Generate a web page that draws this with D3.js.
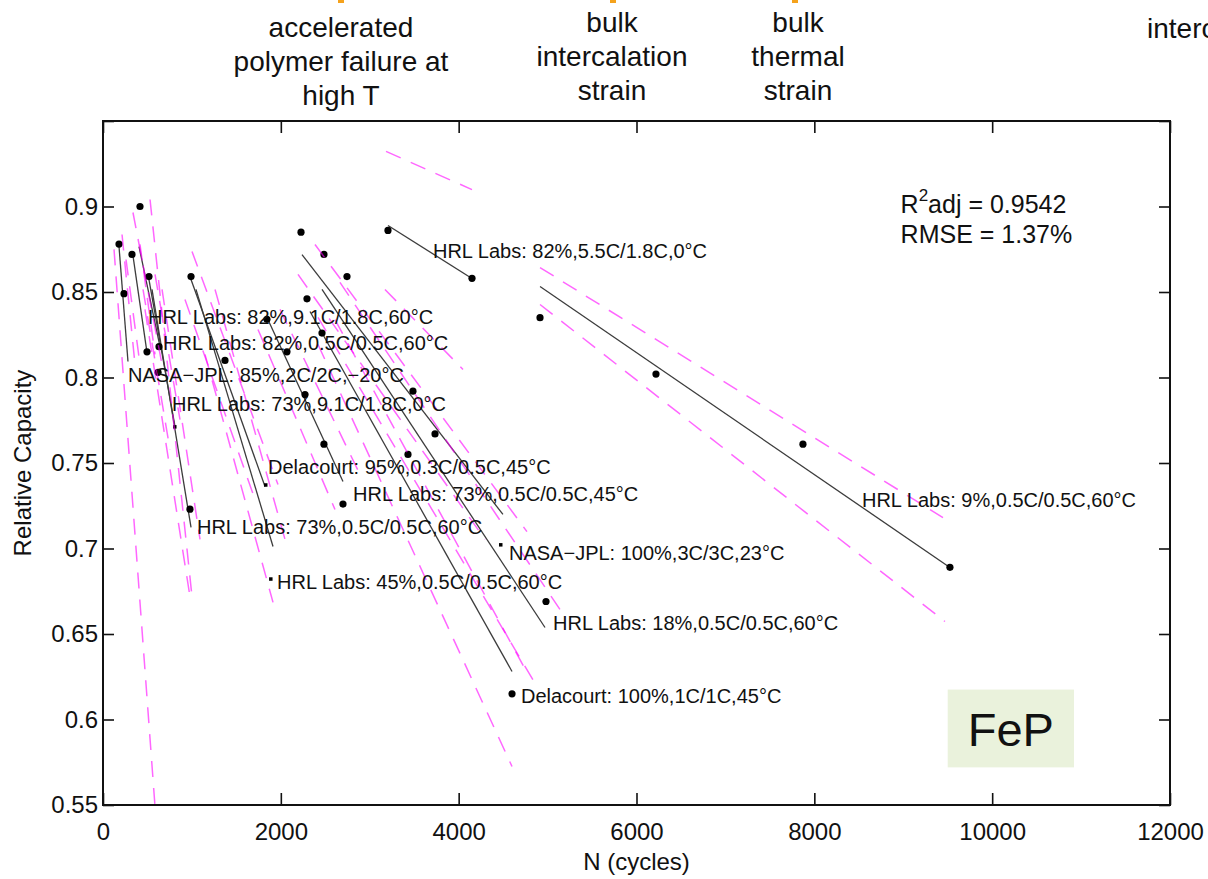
<!DOCTYPE html>
<html>
<head>
<meta charset="utf-8">
<script src="https://cdn.jsdelivr.net/npm/d3@7"></script>
<style>
  body { margin: 0; background: #fff; }
  text { font-family: "Liberation Sans", Arial, sans-serif; fill: #111; }
</style>
</head>
<body>
<script>
// ---- data ----
var xTicks = [0, 2000, 4000, 6000, 8000, 10000, 12000];
var yTicks = [0.55, 0.6, 0.65, 0.7, 0.75, 0.8, 0.85, 0.9, 0.95];
var yTickLabels = ["0.55", "0.6", "0.65", "0.7", "0.75", "0.8", "0.85", "0.9", ""];

var seriesNames = [
  "HRL Labs: 82%,5.5C/1.8C,0°C",
  "HRL Labs: 9%,0.5C/0.5C,60°C",
  "Delacourt: 100%,1C/1C,45°C",
  "HRL Labs: 18%,0.5C/0.5C,60°C",
  "NASA−JPL: 100%,3C/3C,23°C",
  "HRL Labs: 73%,0.5C/0.5C,45°C",
  "HRL Labs: 73%,9.1C/1.8C,0°C",
  "HRL Labs: 82%,9.1C/1.8C,60°C",
  "HRL Labs: 82%,0.5C/0.5C,60°C",
  "HRL Labs: 73%,0.5C/0.5C,60°C",
  "NASA−JPL: 85%,2C/2C,−20°C",
  "Delacourt: 95%,0.3C/0.5C,45°C",
  "HRL Labs: 45%,0.5C/0.5C,60°C"
];

// measured cycles / relative capacity
var seriesPoints = [
  [[3205, 0.886], [4150, 0.858]],
  [[4915, 0.835], [6219, 0.802], [7872, 0.761], [9525, 0.689]],
  [[2294, 0.846], [2463, 0.826], [4600, 0.615]],
  [[2485, 0.872], [2744, 0.859], [3486, 0.792], [3734, 0.767], [4982, 0.669]],
  [[2227, 0.885], [2272, 0.790], [3430, 0.755]],
  [[1844, 0.834], [2069, 0.815], [2485, 0.761], [2699, 0.726]],
  [[517, 0.859], [619, 0.803]],
  [[326, 0.872], [495, 0.815]],
  [[416, 0.900], [630, 0.818]],
  [[978, 0.723]],
  [[180, 0.878], [236, 0.849]],
  [[990, 0.859], [1372, 0.810]],
  []
];
var smallMarks = [[810, 0.771], [1833, 0.737], [1890, 0.682], [4476, 0.702]];

// model fit (start, end)
var fitLines = [
  [[3205, 0.8889], [4150, 0.8579]],
  [[4915, 0.8532], [9525, 0.6889]],
  [[2328, 0.8386], [4600, 0.6281]],
  [[2463, 0.8515], [4971, 0.6538]],
  [[2238, 0.8719], [4498, 0.7199]],
  [[1844, 0.8351], [2699, 0.7392]],
  [[517, 0.8573], [810, 0.7713]],
  [[337, 0.8713], [495, 0.8146]],
  [[405, 0.8766], [641, 0.8181]],
  [[551, 0.8515], [990, 0.7123]],
  [[180, 0.8766], [281, 0.8094]],
  [[990, 0.8573], [1822, 0.7363]],
  [[1046, 0.8515], [1912, 0.7012]]
];

// confidence bounds (start, end)
var upperBounds = [
  [[3183, 0.9322], [4150, 0.9099]],
  [[4915, 0.8643], [9447, 0.7181]],
  [[2609, 0.8339], [4768, 0.6275]],
  [[2665, 0.8556], [5139, 0.6644]],
  [[2384, 0.8778], [4768, 0.7099]],
  [[1991, 0.8398], [2890, 0.7433]],
  [[585, 0.8603], [866, 0.7754]],
  [[416, 0.8778], [585, 0.8135]],
  [[529, 0.9041], [1001, 0.6719]],
  [[664, 0.8515], [1091, 0.7053]],
  [[214, 0.8836], [360, 0.8076]],
  [[1001, 0.8737], [1968, 0.7374]],
  [[1260, 0.8515], [2047, 0.7053]]
];
var lowerBounds = [
  [[3171, 0.8515], [4049, 0.8047]],
  [[4915, 0.8427], [9469, 0.6573]],
  [[2418, 0.8193], [4600, 0.5725]],
  [[2418, 0.8351], [4881, 0.6193]],
  [[2193, 0.8603], [4296, 0.7053]],
  [[1743, 0.8281], [2609, 0.7228]],
  [[450, 0.8515], [753, 0.7579]],
  [[259, 0.8690], [416, 0.8076]],
  [[337, 0.8965], [664, 0.8076]],
  [[472, 0.8398], [978, 0.6719]],
  [[124, 0.8749], [585, 0.5491]],
  [[922, 0.8456], [1709, 0.7287]],
  [[1147, 0.8135], [1912, 0.6685]]
];

var labelAnchors = [
  [3711, 0.8743], [8536, 0.7287], [4701, 0.6140], [5061, 0.6567],
  [4566, 0.6977], [2812, 0.7322], [776, 0.7848], [506, 0.8357],
  [675, 0.8205], [1057, 0.7129], [281, 0.8018], [1856, 0.7480],
  [1957, 0.6807]
];

var mechanismNotes = [
  { x: 341, lines: ["accelerated", "polymer failure at", "high T"], y0: 37 },
  { x: 612, lines: ["bulk", "intercalation", "strain"], y0: 32 },
  { x: 798, lines: ["bulk", "thermal", "strain"], y0: 32 }
];
var mechanismMarks = [341, 613, 795];

// ---- layout ----
var svgWidth = 1208;
var svgHeight = 879;
var margin = { top: 121, right: 38, bottom: 74, left: 103 };
var chartWidth = svgWidth - margin.left - margin.right;
var chartHeight = svgHeight - margin.top - margin.bottom;

var svg = d3.select("body")
  .append("svg")
  .attr("width", svgWidth)
  .attr("height", svgHeight);

// notes above the plot
svg.selectAll(".mark")
  .data(mechanismMarks)
  .enter().append("rect")
  .attr("x", d => d - 3)
  .attr("y", 0)
  .attr("width", 6)
  .attr("height", 3)
  .attr("fill", "#f5a21c");

mechanismNotes.forEach(function(n) {
  var t = svg.append("text")
    .attr("text-anchor", "middle")
    .style("font-size", "28px");
  n.lines.forEach(function(l, i) {
    t.append("tspan").attr("x", n.x).attr("y", n.y0 + i * 34).text(l);
  });
});
svg.append("text")
  .attr("x", 1147).attr("y", 38)
  .style("font-size", "28px")
  .text("intercalation");

var chartGroup = svg.append("g")
  .attr("transform", `translate(${margin.left}, ${margin.top})`);

chartGroup.append("clipPath").attr("id", "plotclip")
  .append("rect").attr("width", chartWidth).attr("height", chartHeight);

var xScale = d3.scaleLinear().domain([0, 12000]).range([0, chartWidth]);
var yScale = d3.scaleLinear().domain([0.55, 0.95]).range([chartHeight, 0]);

var line = d3.line().x(d => xScale(d[0])).y(d => yScale(d[1]));

// FeP tag
chartGroup.append("rect")
  .attr("x", xScale(9500)).attr("y", yScale(0.6175))
  .attr("width", xScale(10920) - xScale(9500))
  .attr("height", yScale(0.572) - yScale(0.6175))
  .attr("fill", "#eaf2dc");
chartGroup.append("text")
  .attr("x", xScale(10210)).attr("y", yScale(0.5845))
  .attr("text-anchor", "middle")
  .style("font-size", "47px")
  .text("FeP");

var plot = chartGroup.append("g").attr("clip-path", "url(#plotclip)");

// fits
plot.selectAll(".fit")
  .data(fitLines)
  .enter().append("path")
  .attr("d", d => line(d))
  .attr("fill", "none")
  .attr("stroke", "#3c3c3c")
  .attr("stroke-width", 1.3);

// points
var allPoints = [];
seriesPoints.forEach(p => p.forEach(q => allPoints.push(q)));
plot.selectAll(".pt")
  .data(allPoints)
  .enter().append("circle")
  .attr("cx", d => xScale(d[0]))
  .attr("cy", d => yScale(d[1]))
  .attr("r", 3.6)
  .attr("fill", "#000");

plot.selectAll(".small")
  .data(smallMarks)
  .enter().append("rect")
  .attr("x", d => xScale(d[0]) - 2)
  .attr("y", d => yScale(d[1]) - 2)
  .attr("width", 3.5)
  .attr("height", 3.5)
  .attr("fill", "#000");

// bounds
plot.selectAll(".bound")
  .data(upperBounds.concat(lowerBounds))
  .enter().append("path")
  .attr("d", d => line(d))
  .attr("fill", "none")
  .attr("stroke", "#ff00ff")
  .attr("stroke-opacity", 0.6)
  .attr("stroke-width", 1.5)
  .attr("stroke-dasharray", "16,11");

// series labels
chartGroup.selectAll(".lbl")
  .data(seriesNames)
  .enter().append("text")
  .attr("x", (d, i) => xScale(labelAnchors[i][0]))
  .attr("y", (d, i) => yScale(labelAnchors[i][1]))
  .attr("dy", "0.36em")
  .style("font-size", "20px")
  .text(d => d);

// fit statistics
var stat = chartGroup.append("text")
  .attr("x", xScale(8970)).attr("y", yScale(0.8964))
  .style("font-size", "25px");
stat.append("tspan").text("R");
stat.append("tspan").attr("dy", -12).style("font-size", "17px").text("2");
stat.append("tspan").attr("dy", 12).text("adj = 0.9542");
chartGroup.append("text")
  .attr("x", xScale(8970)).attr("y", yScale(0.8788))
  .style("font-size", "25px")
  .text("RMSE = 1.37%");

// axes, ticks inward on all four sides
var bottomAxis = d3.axisBottom(xScale).tickValues(xTicks).tickSize(-12).tickPadding(18).tickFormat(d3.format("d"));
var topAxis = d3.axisTop(xScale).tickValues(xTicks).tickSize(-12).tickFormat("");
var leftAxis = d3.axisLeft(yScale).tickValues(yTicks).tickSize(-11).tickPadding(5)
  .tickFormat((d, i) => yTickLabels[i]);
var rightAxis = d3.axisRight(yScale).tickValues(yTicks).tickSize(-11).tickFormat("");

function styleAxis(g) {
  g.select(".domain").remove();
  g.selectAll(".tick line").attr("stroke", "#111").attr("stroke-width", 1.6);
  g.selectAll(".tick text").style("font-size", "24px")
    .style("font-family", "'Liberation Sans', Arial, sans-serif").attr("fill", "#111");
}

chartGroup.append("g").attr("transform", `translate(0, ${chartHeight})`).call(bottomAxis).call(styleAxis);
chartGroup.append("g").call(topAxis).call(styleAxis);
chartGroup.append("g").call(leftAxis).call(styleAxis);
chartGroup.append("g").attr("transform", `translate(${chartWidth}, 0)`).call(rightAxis).call(styleAxis);

chartGroup.append("rect")
  .attr("width", chartWidth).attr("height", chartHeight)
  .attr("fill", "none").attr("stroke", "#111").attr("stroke-width", 2);

// axis titles
chartGroup.append("text")
  .attr("x", chartWidth / 2).attr("y", chartHeight + 65)
  .attr("text-anchor", "middle")
  .style("font-size", "24px")
  .text("N (cycles)");

chartGroup.append("text")
  .attr("transform", `translate(${31 - margin.left}, ${chartHeight / 2}) rotate(-90)`)
  .attr("text-anchor", "middle")
  .style("font-size", "24px")
  .text("Relative Capacity");
</script>
</body>
</html>
